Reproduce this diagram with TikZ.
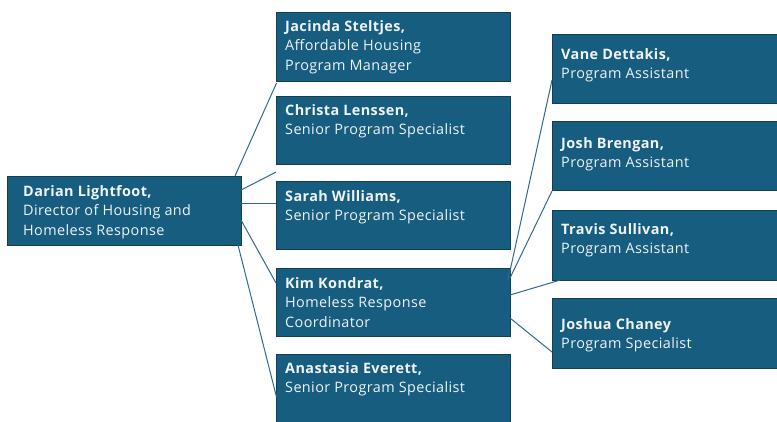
\documentclass[tikz,border=0pt]{standalone}
\usepackage{fontspec}
\setmainfont[LetterSpace=2.8]{Open Sans}
\begin{document}
\begin{tikzpicture}[x=1pt,y=-1pt,
  orgbox/.style={draw=boxedge,line width=1.1pt,fill=boxfill,rectangle,inner sep=0pt,anchor=north west},
  midbox/.style={orgbox,minimum width=234pt,minimum height=68pt},
  sidebox/.style={orgbox,minimum width=228pt,minimum height=69pt},
  label/.style={anchor=north west,inner sep=0pt,align=left,text=boxtext,
    font=\fontsize{14.4}{19.5}\selectfont},
  link/.style={draw=linkcol,line width=1pt}]
\definecolor{boxfill}{HTML}{175D7F}
\definecolor{boxedge}{HTML}{123F57}
\definecolor{boxtext}{HTML}{EEF3F6}
\definecolor{linkcol}{HTML}{2B6C8C}
\useasboundingbox (0,0) rectangle (777,422);

% end points of the connectors on the two managers' boxes
\coordinate (dlA) at (235,176);
\coordinate (dlB) at (241,190);
\coordinate (dlC) at (241,204);
\coordinate (dlD) at (241,220);
\coordinate (dlE) at (238,245);
\coordinate (kkA) at (508,280);
\coordinate (kkB) at (510,278);
\coordinate (kkC) at (510,295);
\coordinate (kkD) at (510,318);

% director
\node[midbox,minimum height=69pt] (dl) at (7,176) {};
\node[label] (dlt) at ([xshift=16pt,yshift=-9pt]dl.north west)
  {\textbf{Darian Lightfoot,}\\Director of Housing and\\Homeless Response};

% direct reports
\node[midbox,minimum height=69pt] (js) at (276,12) {};
\node[midbox] (cl) at (276,96) {};
\node[midbox] (sw) at (276,181) {};
\node[midbox] (kk) at (276,268) {};
\node[midbox,minimum height=75pt] (ae) at (276,354) {};

% coordinator's team
\node[sidebox] (vd) at (552,34) {};
\node[sidebox] (jb) at (552,121) {};
\node[sidebox,minimum height=70pt] (ts) at (552,210) {};
\node[sidebox,minimum height=70pt] (jc) at (552,298) {};

% links from the director
\draw[link] (dlA) -- ([xshift=0.5pt,yshift=-1pt]js.south west);
\draw[link] (dlB) -- ([yshift=-7pt]cl.south west);
\draw[link] (dlC) -- ([yshift=-23pt]sw.north west);
\draw[link] (dlD) -- ([yshift=-15pt]kk.north west);
\draw[link] (dlE) -- ([xshift=0.5pt,yshift=-43pt]ae.north west);

% links from the coordinator
\draw[link] (kkA) -- ([yshift=24pt]vd.south west);
\draw[link] (kkB) -- (jb.south west);
\draw[link] (kkC) -- ([xshift=8pt,yshift=1pt]ts.south west);
\draw[link] (kkD) -- ([yshift=-54pt]jc.north west);

% names and titles
\node[label] (jst) at ([xshift=9pt,yshift=-8pt]js.north west)
  {\textbf{Jacinda Steltjes,}\\Affordable Housing\\Program Manager};
\node[label] (clt) at ([xshift=9pt,yshift=-8pt]cl.north west)
  {\textbf{Christa Lenssen,}\\Senior Program Specialist};
\node[label] (swt) at ([xshift=9pt,yshift=-9pt]sw.north west)
  {\textbf{Sarah Williams,}\\Senior Program Specialist};
\node[label] (kkt) at ([xshift=9pt,yshift=-9pt]kk.north west)
  {\textbf{Kim Kondrat,}\\Homeless Response\\Coordinator};
\node[label] (aet) at ([xshift=9pt,yshift=-8pt]ae.north west)
  {\textbf{Anastasia Everett,}\\Senior Program Specialist};
\node[label] (vdt) at ([xshift=9pt,yshift=-14pt]vd.north west)
  {\textbf{Vane Dettakis,}\\Program Assistant};
\node[label] (jbt) at ([xshift=9pt,yshift=-16pt]jb.north west)
  {\textbf{Josh Brengan,}\\Program Assistant};
\node[label] (tst) at ([xshift=9pt,yshift=-13pt]ts.north west)
  {\textbf{Travis Sullivan,}\\Program Assistant};
\node[label] (jct) at ([xshift=9pt,yshift=-20pt]jc.north west)
  {\textbf{Joshua Chaney}\\Program Specialist};
\end{tikzpicture}
\end{document}
